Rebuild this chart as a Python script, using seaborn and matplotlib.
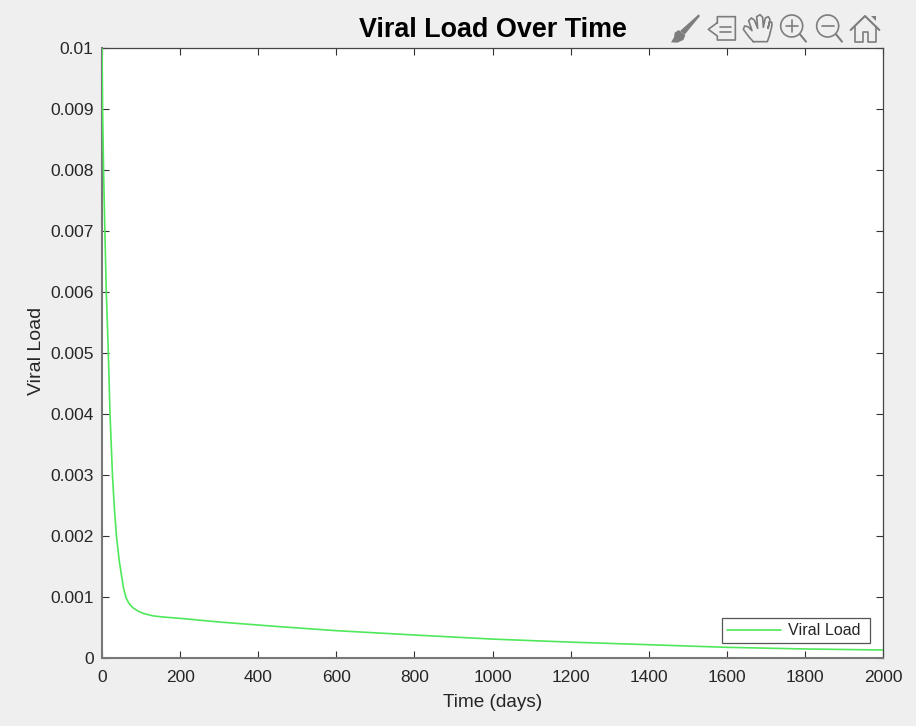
import matplotlib
matplotlib.use("Agg")
import matplotlib.pyplot as plt
import pandas as pd
import seaborn as sns
from matplotlib.patches import Circle, Polygon

# values
days = [0, 1.5, 4, 7, 11, 16, 20.5, 27, 32, 37, 44, 50, 55, 61, 66, 72, 80, 92, 106, 131, 160, 200, 300,
        456, 600, 800, 1000, 1200, 1400, 1600, 1800, 2000]
viral_load = [0.01, 0.009, 0.008, 0.0071, 0.006, 0.00505, 0.004, 0.00297, 0.00243, 0.002, 0.0016, 0.00135,
              0.00115, 0.001, 0.00093, 0.00087, 0.00082, 0.00077, 0.00073, 0.00069, 0.00067, 0.00065, 0.00059,
              0.000513, 0.000448, 0.000377, 0.00031, 0.00026, 0.000218, 0.000175,
              0.000148, 0.000131]
x_ticks = [0, 200, 400, 600, 800, 1000, 1200, 1400, 1600, 1800, 2000]
y_ticks = [0, 0.001, 0.002, 0.003, 0.004, 0.005, 0.006, 0.007, 0.008, 0.009, 0.01]
y_tick_labels = ["0", "0.001", "0.002", "0.003", "0.004", "0.005", "0.006", "0.007",
                 "0.008", "0.009", "0.01"]

W, H = 916, 726
BG = "#efefef"
DARK = "#333333"
ICON = "#7d7d7d"

sns.set_theme(style="white")
plt.rcParams["font.family"] = ["Liberation Sans", "DejaVu Sans"]

df = pd.DataFrame({"Time (days)": days, "Viral Load": viral_load})

fig = plt.figure(figsize=(W / 100, H / 100), dpi=100, facecolor=BG)
ax = fig.add_axes([102 / W, 1 - 658 / H, 781 / W, 610 / H], facecolor="white")

sns.lineplot(data=df, x="Time (days)", y="Viral Load", ax=ax, color="#4fe85a", linewidth=1.2,
             estimator=None, sort=False, label="Viral Load", zorder=3)

ax.set_xlim(0, 2000)
ax.set_ylim(0, 0.01)
ax.set_xticks(x_ticks)
ax.set_yticks(y_ticks)
ax.set_yticklabels(y_tick_labels)
ax.tick_params(axis="both", which="major", direction="in", length=5.2, width=0.8, color=DARK,
               labelcolor="#262626", labelsize=12.5, top=True, right=True, bottom=True, left=True)
ax.tick_params(axis="x", pad=9)
ax.tick_params(axis="y", pad=6)
ax.set_xlabel("Time (days)", fontsize=13.7, color="#262626", labelpad=5.8)
ax.set_ylabel("Viral Load", fontsize=14, color="#262626", labelpad=4, y=0.503)

for side, spine in ax.spines.items():
    spine.set_visible(True)
    if side in ("left", "bottom"):
        spine.set_color("#777777")
        spine.set_linewidth(1.5)
    else:
        spine.set_color("#444444")
        spine.set_linewidth(0.9)

# expand mode keeps the box at the reference width
leg = ax.legend(loc="lower left", bbox_to_anchor=(0.7939, 0.0238, 0.1895, 0.0426), mode="expand",
                borderaxespad=0, fontsize=11.6, frameon=True, fancybox=False, framealpha=1,
                edgecolor="#555555", handlelength=3.35, handletextpad=0.42, borderpad=0.33)
leg.get_frame().set_linewidth(0.9)
for t in leg.get_texts():
    t.set_color("#262626")

fig.text(493 / W, 1 - 30 / H, "Viral Load Over Time", fontsize=19.4, fontweight="bold", color="black",
         ha="center", va="center")

# toolbar icons, in pixels of the picture
tb = fig.add_axes([0, 0, 1, 1], facecolor="none")
tb.set_xlim(0, W)
tb.set_ylim(H, 0)
tb.axis("off")


def z(points):
    # positions taken from the 3x crop of the toolbar
    return [660 + p[0] / 3 for p in points], [p[1] / 3 for p in points]


def stroke(points, lw=1.2):
    xs, ys = z(points)
    tb.plot(xs, ys, color=ICON, lw=lw, solid_capstyle="round", solid_joinstyle="round")


# brush
xs, ys = z([(116, 43), (120, 48), (74, 104), (60, 93)])
tb.add_patch(Polygon(list(zip(xs, ys)), closed=True, color=ICON, lw=0))
xs, ys = z([(56, 90), (76, 106), (70, 120), (52, 128), (33, 127), (42, 112), (44, 98)])
tb.add_patch(Polygon(list(zip(xs, ys)), closed=True, color=ICON, lw=0))

# legend icon
stroke([(172, 68), (172, 50), (226, 50), (226, 120), (172, 120), (172, 108), (145, 88), (172, 68)])
stroke([(180, 80), (212, 80)])
stroke([(180, 97), (212, 97)])

# hand
stroke([(280, 125), (268, 112), (250, 88), (254, 78), (264, 80), (276, 92), (266, 62), (274, 54),
        (283, 60), (293, 85), (290, 50), (300, 44), (308, 52), (310, 82), (316, 54), (325, 50),
        (330, 58), (324, 85), (328, 68), (335, 66), (336, 76), (328, 108), (322, 125), (280, 125)])

# zoom in / zoom out
for cx, hx in ((395, 438), (503, 546)):
    tb.add_patch(Circle((660 + cx / 3, 78 / 3), 33 / 3, fill=False, ec=ICON, lw=1.2))
    stroke([(cx + 25, 103), (hx, 125)], lw=1.5)
    stroke([(cx - 18, 78), (cx + 18, 78)])
stroke([(395, 60), (395, 96)])

# home
stroke([(572, 90), (615, 48), (658, 90)], lw=1.5)
stroke([(585, 80), (585, 126), (610, 126), (610, 96), (625, 96), (625, 126), (648, 126), (648, 80)])
xs, ys = z([(632, 48), (648, 48), (648, 64)])
tb.add_patch(Polygon(list(zip(xs, ys)), closed=True, color=ICON, lw=0))

fig.savefig("out.png", dpi=100, facecolor=BG)
